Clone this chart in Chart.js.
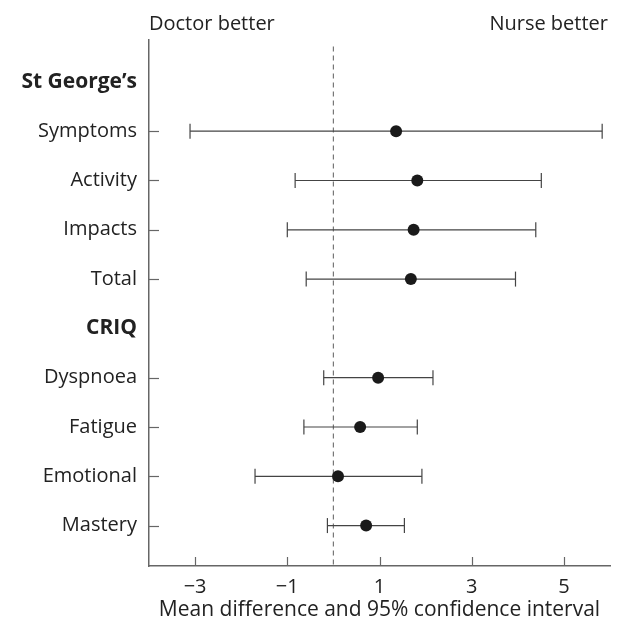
<!DOCTYPE html>
<html>
<head>
<meta charset="utf-8">
<script src="https://cdn.jsdelivr.net/npm/chart.js@4.4.1/dist/chart.umd.min.js"></script>
<style>
  html, body { margin: 0; padding: 0; background: #fff; }
  #wrap { width: 619px; height: 626px; }
</style>
</head>
<body>
<div id="wrap"><canvas id="chart"></canvas></div>
<script>
// rows top to bottom; headings have no values
const rowLabels = ['St George’s', 'Symptoms', 'Activity', 'Impacts', 'Total', 'CRIQ', 'Dyspnoea', 'Fatigue', 'Emotional', 'Mastery'];
const headingRows = [0, 5];
const means = [null, 1.36, 1.82, 1.74, 1.68, null, 0.97, 0.58, 0.10, 0.71];
const lower = [null, -3.11, -0.83, -1.00, -0.59, null, -0.21, -0.64, -1.70, -0.13];
const upper = [null, 5.83, 4.51, 4.39, 3.95, null, 2.16, 1.82, 1.92, 1.54];
const xTicks = [-3, -1, 1, 3, 5];
const leftNote = 'Doctor better';
const rightNote = 'Nurse better';
const xTitle = 'Mean difference and 95% confidence interval';

const FONT = "'Open Sans', 'DejaVu Sans', sans-serif";
const INK = '#222';
const AXIS = '#666';
const Y_MIN = -0.85;
const Y_MAX = 9.82;

const dataRows = rowLabels.map((_, i) => i).filter(i => !headingRows.includes(i));

const ciSets = dataRows.map(i => ({
    type: 'scatter',
    data: [{ x: lower[i], y: i }, { x: upper[i], y: i }],
    showLine: true,
    borderColor: '#444',
    borderWidth: 1.2,
    pointStyle: 'line',
    rotation: 90,
    pointRadius: 7.5,
    pointBorderColor: '#444',
    pointBorderWidth: 1.2,
}));

const meanSet = {
    type: 'scatter',
    data: dataRows.map(i => ({ x: means[i], y: i })),
    pointRadius: 6,
    pointBackgroundColor: '#1a1a1a',
    pointBorderColor: '#1a1a1a',
    pointBorderWidth: 0,
};

const zeroSet = {
    type: 'scatter',
    data: [{ x: 0, y: -0.72 }, { x: 0, y: Y_MAX }],
    showLine: true,
    borderColor: '#777',
    borderWidth: 1.2,
    borderDash: [5, 4],
    pointRadius: 0,
};

// inward tick marks and the two notes above the plot
const extras = {
    id: 'extras',
    afterDraw(chart) {
        const { ctx, chartArea, scales } = chart;
        ctx.save();
        ctx.strokeStyle = AXIS;
        ctx.lineWidth = 1.2;
        xTicks.forEach(v => {
            const px = Math.round(scales.x.getPixelForValue(v)) + 0.5;
            ctx.beginPath();
            ctx.moveTo(px, chartArea.bottom);
            ctx.lineTo(px, chartArea.bottom - 9);
            ctx.stroke();
        });
        dataRows.forEach(i => {
            const py = Math.round(scales.y.getPixelForValue(i)) + 0.5;
            ctx.beginPath();
            ctx.moveTo(chartArea.left, py);
            ctx.lineTo(chartArea.left + 10, py);
            ctx.stroke();
        });
        ctx.fillStyle = INK;
        ctx.font = `20px ${FONT}`;
        ctx.textBaseline = 'alphabetic';
        ctx.textAlign = 'left';
        ctx.fillText(leftNote, chartArea.left, 30);
        ctx.textAlign = 'right';
        ctx.fillText(rightNote, chartArea.right - 2, 30);
        ctx.restore();
    },
};

new Chart(document.getElementById('chart'), {
    type: 'scatter',
    data: { datasets: [meanSet, ...ciSets, zeroSet] },
    options: {
        responsive: true,
        maintainAspectRatio: false,
        animation: false,
        layout: { padding: { top: 40, right: 9, left: 0, bottom: 0 } },
        plugins: { legend: { display: false }, tooltip: { enabled: false } },
        scales: {
            x: {
                type: 'linear',
                min: -4,
                max: 6,
                afterBuildTicks: s => { s.ticks = xTicks.map(v => ({ value: v })); },
                afterFit: s => { s.height = 60; },
                grid: { display: false, drawTicks: false },
                border: { display: true, color: AXIS, width: 1.5 },
                ticks: {
                    color: INK,
                    padding: 9,
                    font: { family: FONT, size: 20 },
                    callback: v => String(v).replace('-', '\u2212'),
                },
                title: {
                    display: true,
                    text: xTitle,
                    color: INK,
                    font: { family: FONT, size: 21 },
                    padding: { top: 0, bottom: 3 },
                },
            },
            y: {
                type: 'linear',
                reverse: true,
                min: Y_MIN,
                max: Y_MAX,
                afterBuildTicks: s => { s.ticks = rowLabels.map((_, i) => ({ value: i })); },
                afterFit: s => { s.width = 149; },
                grid: { display: false, drawTicks: false },
                border: { display: true, color: AXIS, width: 1.5 },
                ticks: {
                    color: INK,
                    padding: 12,
                    autoSkip: false,
                    font: ctx => headingRows.includes(ctx.index)
                        ? { family: FONT, size: 21, weight: 'bold' }
                        : { family: FONT, size: 20, weight: 'normal' },
                    callback: (v, i) => rowLabels[i],
                },
            },
        },
    },
    plugins: [extras],
});
</script>
</body>
</html>
